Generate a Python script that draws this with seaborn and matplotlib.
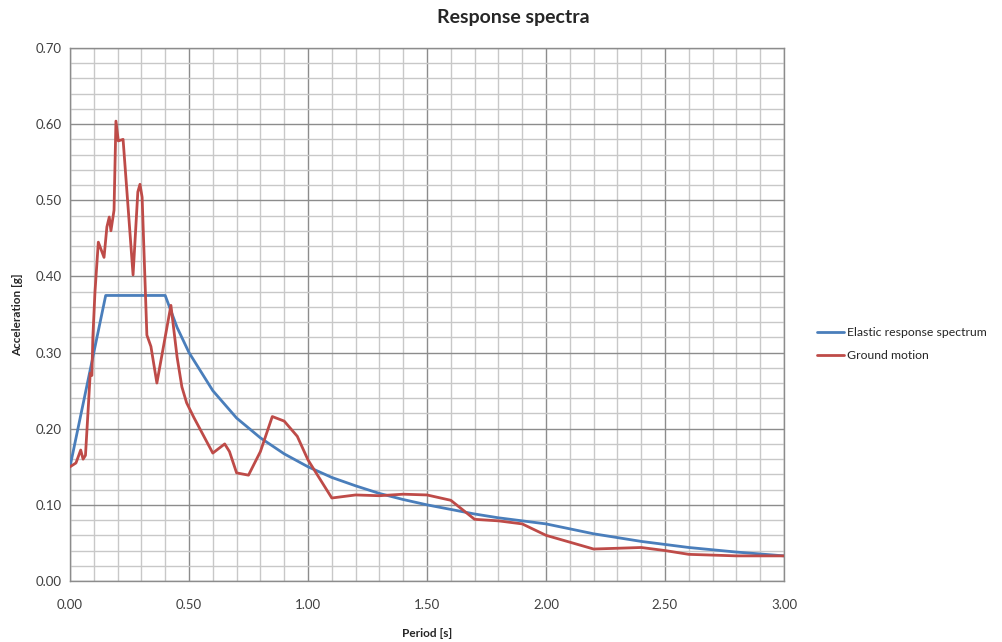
import numpy as np
import pandas as pd
import seaborn as sns
import matplotlib.pyplot as plt
from matplotlib.ticker import MultipleLocator, FormatStrFormatter

# elastic response spectrum
elastic_T = [0.0, 0.15, 0.40, 0.45, 0.50, 0.60, 0.70, 0.80, 0.90, 1.00, 1.10, 1.20,
             1.30, 1.40, 1.50, 1.60, 1.70, 1.80, 1.90, 2.00, 2.20, 2.40, 2.60, 2.80, 3.00]
elastic_A = [0.150, 0.375, 0.375, 0.333, 0.300, 0.250, 0.214, 0.188, 0.167, 0.150, 0.136, 0.125,
             0.115, 0.107, 0.100, 0.094, 0.088, 0.083, 0.079, 0.075, 0.062, 0.052, 0.044, 0.038, 0.033]

# ground motion spectrum
ground_T = [0.0, 0.01, 0.025, 0.045, 0.055, 0.065, 0.077, 0.085, 0.092, 0.096, 0.105, 0.119,
            0.143, 0.155, 0.165, 0.172, 0.185, 0.193, 0.203, 0.223, 0.265, 0.285, 0.294, 0.303,
            0.323, 0.34, 0.365, 0.424, 0.45, 0.47, 0.49, 0.52, 0.60, 0.65, 0.67, 0.70, 0.75,
            0.80, 0.85, 0.90, 0.955, 1.00, 1.10, 1.20, 1.30, 1.40, 1.50, 1.60, 1.70, 1.80,
            1.90, 2.00, 2.10, 2.20, 2.30, 2.40, 2.50, 2.60, 2.70, 2.80, 3.00]
ground_A = [0.150, 0.152, 0.155, 0.172, 0.160, 0.165, 0.229, 0.273, 0.270, 0.320, 0.380, 0.445,
            0.425, 0.465, 0.478, 0.460, 0.487, 0.604, 0.578, 0.580, 0.402, 0.511, 0.521, 0.504,
            0.323, 0.308, 0.260, 0.362, 0.294, 0.255, 0.234, 0.215, 0.168, 0.180, 0.170, 0.142, 0.139,
            0.170, 0.216, 0.210, 0.190, 0.159, 0.109, 0.113, 0.112, 0.114, 0.113, 0.106, 0.081, 0.079,
            0.075, 0.060, 0.051, 0.042, 0.043, 0.044, 0.040, 0.035, 0.034, 0.033, 0.033]

series_names = ["Elastic response spectrum", "Ground motion"]
colors = {"Elastic response spectrum": "#4a7ebb", "Ground motion": "#be4b48"}

df = pd.concat([
    pd.DataFrame({"Period": elastic_T, "Acc": elastic_A, "series": series_names[0]}),
    pd.DataFrame({"Period": ground_T, "Acc": ground_A, "series": series_names[1]}),
])

sns.set_style("white")
plt.rcParams['font.family'] = ['Lato', 'DejaVu Sans']

fig = plt.figure(figsize=(10.03, 6.42), dpi=100)
ax = fig.add_axes([70 / 1003, 1 - 581 / 642, 714 / 1003, 533 / 642])

sns.lineplot(data=df, x="Period", y="Acc", hue="series", palette=colors,
             sort=False, estimator=None, linewidth=2.0, ax=ax, zorder=3)

ax.set_xlim(0, 3)
ax.set_ylim(0, 0.7)
ax.xaxis.set_major_locator(MultipleLocator(0.5))
ax.xaxis.set_minor_locator(MultipleLocator(0.1))
ax.yaxis.set_major_locator(MultipleLocator(0.1))
ax.yaxis.set_minor_locator(MultipleLocator(0.02))
ax.xaxis.set_major_formatter(FormatStrFormatter("%.2f"))
ax.yaxis.set_major_formatter(FormatStrFormatter("%.2f"))
ax.grid(which="minor", color="#c8c8c8", linewidth=1.0, zorder=0)
ax.grid(which="major", color="#8c8c8c", linewidth=1.0, zorder=1)
ax.set_axisbelow(True)
ax.tick_params(which="both", length=0, labelsize=9.5, labelcolor="#404040")
ax.tick_params(axis="x", pad=13)
ax.tick_params(axis="y", pad=6)
for s in ax.spines.values():
    s.set_color("#8c8c8c")
    s.set_linewidth(1.0)

ax.set_xlabel("Period [s]", fontsize=8.5, fontweight="bold", labelpad=12)
ax.set_ylabel("Acceleration [g]", fontsize=8.5, fontweight="bold", labelpad=9)
fig.suptitle("Response spectra", x=513 / 1003, y=1 - 18 / 642, va="center",
             fontsize=14, fontweight="bold")

ax.legend_.remove()
handles, labels = ax.get_legend_handles_labels()
fig.legend(handles, labels, loc="center left", bbox_to_anchor=(806 / 1003, 1 - 344 / 642),
           frameon=False, fontsize=8.8, handlelength=2.2, handletextpad=0.25, labelspacing=1.0)

fig.savefig("out.png", dpi=100)
